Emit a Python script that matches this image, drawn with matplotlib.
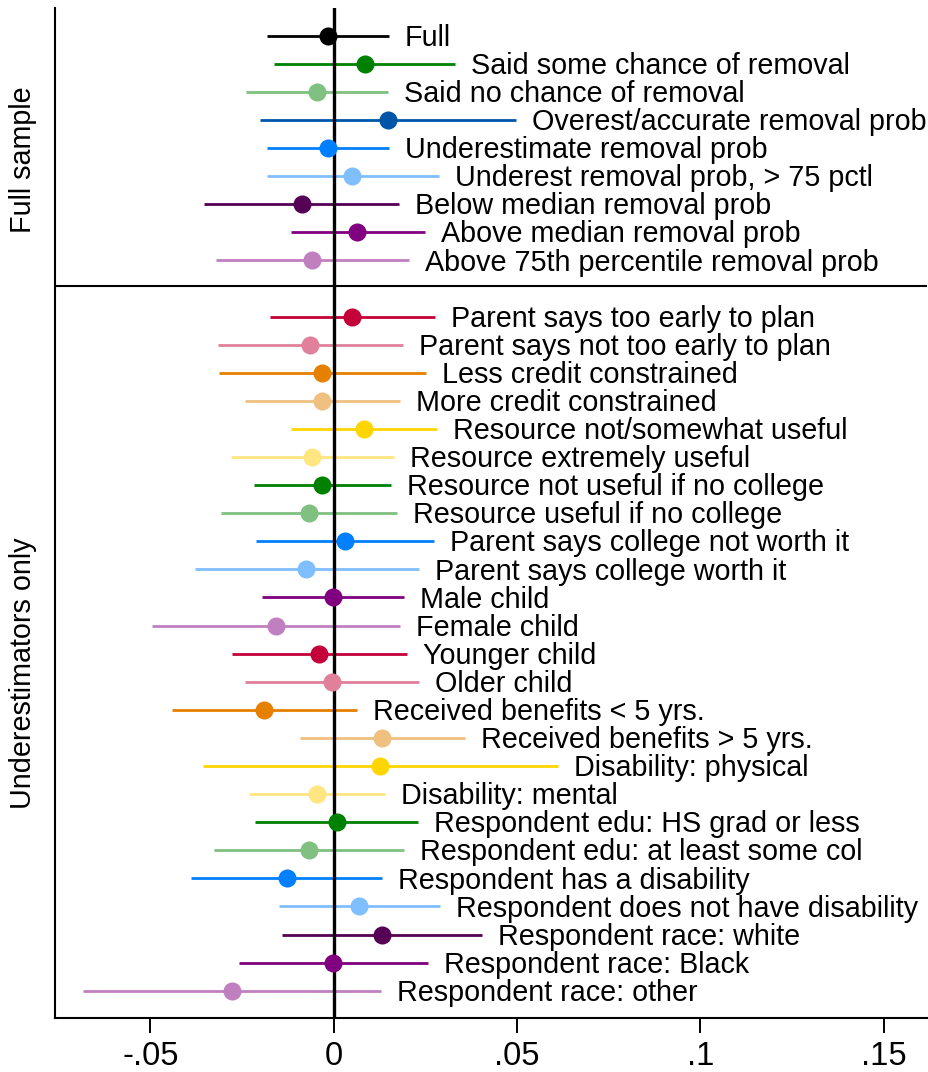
import matplotlib
matplotlib.use("Agg")
import matplotlib.pyplot as plt

plt.rcParams['font.family'] = ['Liberation Sans', 'DejaVu Sans']

# Full-sample groups
full_labels = [
    "Full",
    "Said some chance of removal",
    "Said no chance of removal",
    "Overest/accurate removal prob",
    "Underestimate removal prob",
    "Underest removal prob, > 75 pctl",
    "Below median removal prob",
    "Above median removal prob",
    "Above 75th percentile removal prob",
]
full_est = [-0.0016, 0.0085, -0.0046, 0.0149, -0.0016, 0.0051, -0.0087, 0.0064, -0.0058]
full_lo = [-0.0183, -0.0162, -0.0240, -0.0200, -0.0183, -0.0183, -0.0354, -0.0117, -0.0321]
full_hi = [0.0151, 0.0332, 0.0147, 0.0496, 0.0151, 0.0288, 0.0179, 0.0249, 0.0206]
full_colors = ["#000000", "#008000", "#80c080", "#0055a8", "#0080ff",
               "#80bfff", "#550055", "#800080", "#c080c0"]

# Underestimator subgroups
under_labels = [
    "Parent says too early to plan",
    "Parent says not too early to plan",
    "Less credit constrained",
    "More credit constrained",
    "Resource not/somewhat useful",
    "Resource extremely useful",
    "Resource not useful if no college",
    "Resource useful if no college",
    "Parent says college not worth it",
    "Parent says college worth it",
    "Male child",
    "Female child",
    "Younger child",
    "Older child",
    "Received benefits < 5 yrs.",
    "Received benefits > 5 yrs.",
    "Disability: physical",
    "Disability: mental",
    "Respondent edu: HS grad or less",
    "Respondent edu: at least some col",
    "Respondent has a disability",
    "Respondent does not have disability",
    "Respondent race: white",
    "Respondent race: Black",
    "Respondent race: other",
]
under_est = [0.0051, -0.0064, -0.0031, -0.0031, 0.0083, -0.0058, -0.0031, -0.0068,
             0.0031, -0.0075, -0.0002, -0.0157, -0.0040, -0.0004, -0.0189, 0.0133,
             0.0126, -0.0046, 0.0008, -0.0067, -0.0128, 0.0069, 0.0133, -0.0002, -0.0277]
under_lo = [-0.0173, -0.0315, -0.0312, -0.0241, -0.0116, -0.0280, -0.0218, -0.0307,
            -0.0211, -0.0379, -0.0196, -0.0495, -0.0278, -0.0241, -0.0440, -0.0092,
            -0.0356, -0.0230, -0.0214, -0.0326, -0.0388, -0.0150, -0.0140, -0.0259, -0.0683]
under_hi = [0.0276, 0.0188, 0.0252, 0.0180, 0.0281, 0.0164, 0.0155, 0.0172,
            0.0274, 0.0232, 0.0193, 0.0181, 0.0199, 0.0233, 0.0063, 0.0358,
            0.0611, 0.0140, 0.0230, 0.0193, 0.0133, 0.0290, 0.0404, 0.0256, 0.0129]
under_colors = ["#c4003a", "#e0809a", "#e68000", "#f0c080", "#ffd500", "#ffe680",
                "#008000", "#80c080", "#0080ff", "#80bfff", "#800080", "#c080c0",
                "#c4003a", "#e0809a", "#e68000", "#f0c080", "#ffd500", "#ffe680",
                "#008000", "#80c080", "#0080ff", "#80bfff", "#550055", "#800080", "#c080c0"]

xticks = [-0.05, 0, 0.05, 0.1, 0.15]
xticklabels = ["-.05", "0", ".05", ".1", ".15"]

W, H = 929, 1072
fig = plt.figure(figsize=(W / 100, H / 100), dpi=100)
ax = fig.add_axes([55.3 / W, 1 - 1018 / H, (927 - 55.3) / W, (1018 - 8.3) / H])

labels = full_labels + under_labels
est = full_est + under_est
lo = full_lo + under_lo
hi = full_hi + under_hi
colors = full_colors + under_colors
ypos = list(range(len(full_labels))) + [len(full_labels) + 1 + i for i in range(len(under_labels))]

for y, e, l, h, c, lab in zip(ypos, est, lo, hi, colors, labels):
    ax.plot([l, h], [y, y], color=c, lw=2.0, solid_capstyle='butt', zorder=2)
    ax.plot([e], [y], 'o', color=c, ms=13, mew=0, zorder=4)
    ax.annotate(lab, xy=(h, y), xytext=(11.5, -7.3), textcoords='offset points',
                ha='left', va='baseline', fontsize=20.7, color='black', zorder=5)

ax.axvline(0, color='black', lw=2.4, zorder=3)
ax.axhline(8.91, color='black', lw=1.5, zorder=1)

ax.set_xlim((55.3 - 333.7) / 3667, (927 - 333.7) / 3667)
ax.set_ylim(34.97, -0.975)

ax.set_xticks(xticks)
ax.set_xticklabels(xticklabels, fontsize=23.5)
ax.set_yticks([])
ax.tick_params(axis='x', length=10.8, width=1.4, pad=6)
for s in ['top', 'right']:
    ax.spines[s].set_visible(False)
for s in ['left', 'bottom']:
    ax.spines[s].set_linewidth(1.5)

fig.text(23 / W, 1 - 160 / H, "Full sample", rotation=90, ha='center', va='center', fontsize=20.7)
fig.text(23 / W, 1 - 673 / H, "Underestimators only", rotation=90, ha='center', va='center', fontsize=20.7)

fig.savefig("out.png", dpi=100)
